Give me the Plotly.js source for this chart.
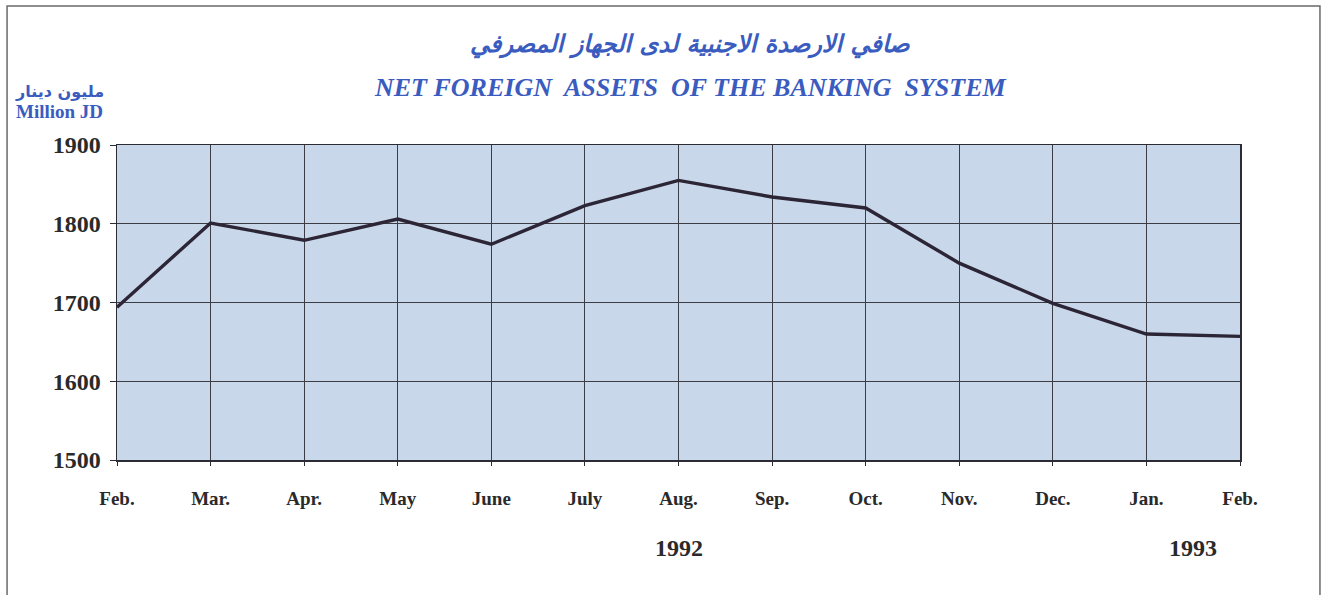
<!DOCTYPE html>
<html>
<head>
<meta charset="utf-8">
<script src="https://cdn.plot.ly/plotly-3.0.1.min.js"></script>
<style>html,body{margin:0;padding:0;background:#fff;}#chart{width:1330px;height:595px;}</style>
</head>
<body>
<div id="chart"></div>
<script>
const months = ["Feb.", "Mar.", "Apr.", "May", "June", "July", "Aug.", "Sep.", "Oct.", "Nov.", "Dec.", "Jan.", "Feb."];
const netForeignAssets = [1694, 1801, 1779, 1806, 1774, 1823, 1855, 1834, 1820, 1750, 1699, 1660, 1657];
const yTicks = [1500, 1600, 1700, 1800, 1900];
const titleAr = "صافي الارصدة الاجنبية لدى الجهاز المصرفي";
const titleEn = "NET FOREIGN  ASSETS  OF THE BANKING  SYSTEM";
const unitAr = "مليون دينار";
const unitEn = "Million JD";
const years = [{label: "1992", idx: 6}, {label: "1993", idx: 11.5}];

const xIdx = months.map((m, i) => i);
const blue = "#3a5cbf";
const serif = "Liberation Serif, Times New Roman, serif";
const arab = "DejaVu Sans, Noto Sans, sans-serif";

const trace = {
  x: xIdx, y: netForeignAssets, type: "scatter", mode: "lines",
  line: {color: "#2b2536", width: 3.4}, hoverinfo: "none"
};

const annotations = [
  {text: "<b><i>" + titleAr + "</i></b>", xref: "paper", yref: "paper", x: 0.51, y: 1.318, showarrow: false,
   font: {family: arab, size: 24, color: blue}, xanchor: "center", yanchor: "middle"},
  {text: "<b><i>" + titleEn + "</i></b>", xref: "paper", yref: "paper", x: 0.511, y: 1.181, showarrow: false,
   font: {family: serif, size: 26, color: blue}, xanchor: "center", yanchor: "middle"},
  {text: "<b>" + unitAr + "</b>", xref: "paper", yref: "paper", x: -0.051, y: 1.17, showarrow: false,
   font: {family: arab, size: 16, color: blue}, xanchor: "center", yanchor: "middle"},
  {text: "<b>" + unitEn + "</b>", xref: "paper", yref: "paper", x: -0.051, y: 1.105, showarrow: false,
   font: {family: serif, size: 19, color: blue}, xanchor: "center", yanchor: "middle"}
];
years.forEach(yr => annotations.push({
  text: "<b>" + yr.label + "</b>", xref: "x", yref: "paper", x: yr.idx, y: -0.28, showarrow: false,
  font: {family: serif, size: 24, color: "#2a2a2a"}, xanchor: "center", yanchor: "middle"
}));

const layout = {
  width: 1330, height: 595,
  margin: {l: 117, r: 90, t: 145, b: 135},
  paper_bgcolor: "#ffffff", plot_bgcolor: "#c9d7eb",
  showlegend: false,
  xaxis: {
    range: [0, months.length - 1], tickmode: "array", tickvals: xIdx, ticktext: months,
    showgrid: true, gridcolor: "#3c3c44", gridwidth: 1, zeroline: false,
    showline: true, linecolor: "#2c2c34", linewidth: 1.5, mirror: true,
    ticks: "outside", ticklen: 4, tickcolor: "#2c2c34", ticklabelstandoff: 17,
    tickfont: {family: serif, size: 19, color: "#2a2a2a", weight: "bold"}, fixedrange: true
  },
  yaxis: {
    range: [yTicks[0], yTicks[yTicks.length - 1]], tickmode: "array", tickvals: yTicks,
    showgrid: true, gridcolor: "#3c3c44", gridwidth: 1, zeroline: false,
    showline: true, linecolor: "#2c2c34", linewidth: 1.5, mirror: true,
    ticks: "outside", ticklen: 6, tickcolor: "#2c2c34", ticklabelstandoff: 4,
    tickfont: {family: serif, size: 24, color: "#2a2a2a", weight: "bold"}, fixedrange: true
  },
  annotations: annotations,
  shapes: [
    {type: "rect", xref: "paper", yref: "paper", x0: -0.0979, x1: 1.0712, y0: -0.6, y1: 1.441,
     line: {color: "#6a6a6a", width: 1.5}, fillcolor: "rgba(0,0,0,0)", layer: "below"}
  ]
};

Plotly.newPlot("chart", [trace], layout, {displayModeBar: false, staticPlot: true});
</script>
</body>
</html>
